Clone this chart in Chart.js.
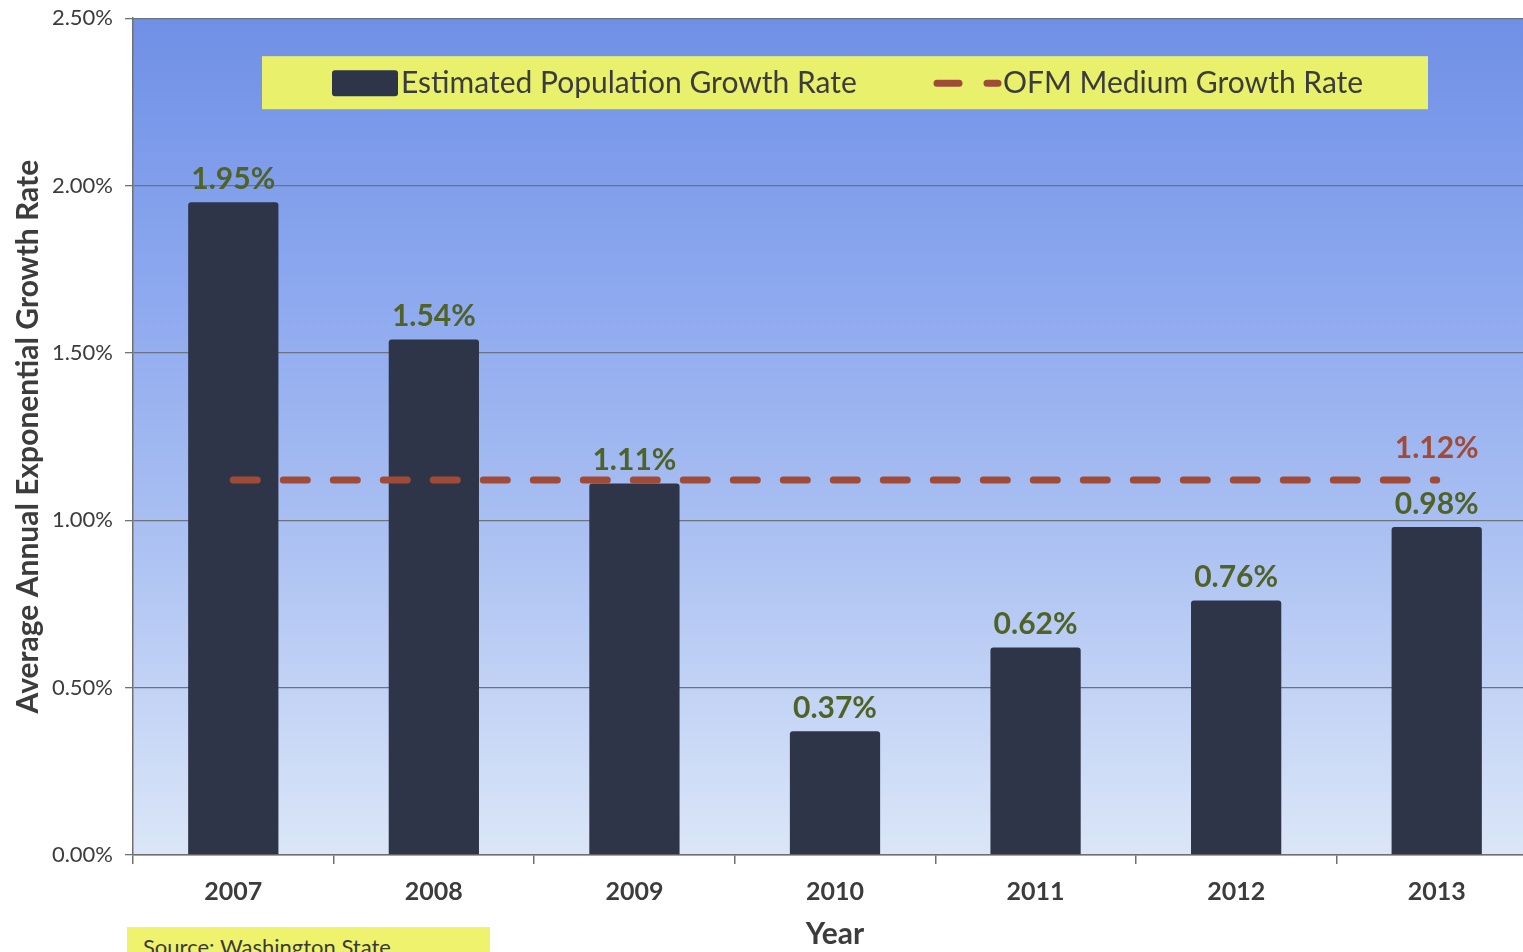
<!DOCTYPE html>
<html>
<head>
<meta charset="utf-8">
<script src="https://cdn.jsdelivr.net/npm/chart.js@4.4.1/dist/chart.umd.min.js"></script>
<style>
    html, body { margin: 0; padding: 0; width: 1523px; height: 952px; overflow: hidden; background: #ffffff; }
    #wrap { position: absolute; left: 0; top: -7px; width: 1545px; height: 959px; }
    #source-box {
        position: absolute; left: 127px; top: 927px; width: 363px; height: 40px;
        background: #eef26c; font-family: Lato, sans-serif; font-size: 22px; color: #3a3a3a;
        padding-left: 16px; box-sizing: border-box; line-height: 36px; padding-top: 2px;
    }
</style>
</head>
<body>
<div id="wrap"><canvas id="growth-chart"></canvas></div>
<div id="source-box">Source: Washington State</div>
<script>
    // chart data
    const years = ['2007', '2008', '2009', '2010', '2011', '2012', '2013'];
    const estimated_growth = [1.95, 1.54, 1.11, 0.37, 0.62, 0.76, 0.98];
    const ofm_medium_growth = [1.12, 1.12, 1.12, 1.12, 1.12, 1.12, 1.12];
    const y_ticks = [0, 0.5, 1.0, 1.5, 2.0, 2.5];

    const FONT = 'Lato, "Open Sans", sans-serif';
    const BAR_COLOR = '#2e3548';
    const LINE_COLOR = '#a04b37';
    const LABEL_GREEN = '#4f6228';
    const TEXT_DARK = '#3c3c3c';

    // blue gradient behind the plot area
    const plot_background = {
        id: 'plot_background',
        beforeDraw(chart) {
            const { ctx, chartArea: a } = chart;
            const g = ctx.createLinearGradient(0, a.top, 0, a.bottom);
            g.addColorStop(0, '#7090e6');
            g.addColorStop(0.3, '#8aa6ee');
            g.addColorStop(0.6, '#a9bff2');
            g.addColorStop(1, '#dbe6f8');
            ctx.save();
            ctx.fillStyle = g;
            ctx.fillRect(a.left, a.top, a.right - a.left, a.bottom - a.top);
            ctx.restore();
        }
    };

    // value labels above bars and at the end of the dashed line
    const value_labels = {
        id: 'value_labels',
        afterDatasetsDraw(chart) {
            const ctx = chart.ctx;
            ctx.save();
            ctx.font = 'bold 30px ' + FONT;
            ctx.textAlign = 'center';
            ctx.textBaseline = 'bottom';

            ctx.fillStyle = LABEL_GREEN;
            chart.getDatasetMeta(0).data.forEach((bar, i) => {
                ctx.fillText(estimated_growth[i].toFixed(2) + '%', bar.x, bar.y - 8);
            });

            const pts = chart.getDatasetMeta(1).data;
            const last = pts[pts.length - 1];
            ctx.fillStyle = LINE_COLOR;
            ctx.fillText(ofm_medium_growth[pts.length - 1].toFixed(2) + '%', last.x, last.y - 17);
            ctx.restore();
        }
    };

    // yellow legend box drawn inside the plot area
    const yellow_legend = {
        id: 'yellow_legend',
        afterDraw(chart) {
            const { ctx, chartArea: a } = chart;
            const ds = chart.data.datasets;
            const box_x = a.left + 129, box_y = a.top + 38;
            ctx.save();
            ctx.fillStyle = '#e8f06c';
            ctx.fillRect(box_x, box_y, 1166, 53);

            const mid = box_y + 27;
            ctx.font = '30px ' + FONT;
            ctx.textBaseline = 'middle';
            ctx.textAlign = 'left';

            // bar swatch
            ctx.fillStyle = ds[0].backgroundColor;
            ctx.beginPath();
            ctx.roundRect(a.left + 199, mid - 13, 66, 26, 3);
            ctx.fill();
            ctx.fillStyle = TEXT_DARK;
            ctx.fillText(ds[0].label, a.left + 268, mid);

            // dashed line swatch
            ctx.strokeStyle = ds[1].borderColor;
            ctx.lineWidth = 7;
            ctx.lineCap = 'round';
            ctx.beginPath();
            ctx.moveTo(a.left + 804, mid); ctx.lineTo(a.left + 826, mid);
            ctx.moveTo(a.left + 854, mid); ctx.lineTo(a.left + 865, mid);
            ctx.stroke();
            ctx.fillText(ds[1].label, a.left + 870, mid);
            ctx.restore();
        }
    };

    new Chart(document.getElementById('growth-chart'), {
        type: 'bar',
        data: {
            labels: years,
            datasets: [
                {
                    type: 'bar',
                    label: 'Estimated Population Growth Rate',
                    data: estimated_growth,
                    backgroundColor: BAR_COLOR,
                    borderRadius: 3,
                    borderSkipped: 'bottom',
                    barPercentage: 0.45,
                    categoryPercentage: 1.0,
                    order: 2
                },
                {
                    type: 'line',
                    label: 'OFM Medium Growth Rate',
                    data: ofm_medium_growth,
                    borderColor: LINE_COLOR,
                    borderWidth: 7,
                    borderDash: [24, 26],
                    borderCapStyle: 'round',
                    pointRadius: 0,
                    fill: false,
                    order: 1
                }
            ]
        },
        options: {
            responsive: true,
            maintainAspectRatio: false,
            animation: false,
            layout: { padding: { top: 10, right: 8, left: 0, bottom: 0 } },
            plugins: {
                legend: { display: false },
                tooltip: { enabled: false }
            },
            scales: {
                x: {
                    afterFit: (scale) => { scale.height = 97; },
                    grid: {
                        display: true,
                        drawOnChartArea: false,
                        offset: true,
                        tickLength: 9,
                        color: '#707070',
                        lineWidth: 1.5
                    },
                    border: { color: '#707070', width: 1.5 },
                    ticks: {
                        color: TEXT_DARK,
                        font: { family: FONT, size: 25, weight: 'bold' },
                        padding: 13
                    },
                    title: {
                        display: true,
                        text: 'Year',
                        color: TEXT_DARK,
                        font: { family: FONT, size: 30, weight: 'bold' },
                        padding: { top: 0, bottom: 0 }
                    }
                },
                y: {
                    min: 0,
                    max: 2.5,
                    afterFit: (scale) => { scale.width = 133; },
                    afterBuildTicks: (scale) => {
                        scale.ticks = y_ticks.map((v) => ({ value: v }));
                    },
                    grid: {
                        color: '#6a7380',
                        lineWidth: 1.3,
                        tickLength: 8
                    },
                    border: { color: '#707070', width: 1.5 },
                    ticks: {
                        color: TEXT_DARK,
                        font: { family: FONT, size: 22 },
                        padding: 12,
                        callback: (v) => v.toFixed(2) + '%'
                    },
                    title: {
                        display: true,
                        text: 'Average Annual Exponential Growth Rate',
                        color: TEXT_DARK,
                        font: { family: FONT, size: 30, weight: 'bold' },
                        padding: { top: 10, bottom: 0 }
                    }
                }
            }
        },
        plugins: [plot_background, value_labels, yellow_legend]
    });
</script>
</body>
</html>
